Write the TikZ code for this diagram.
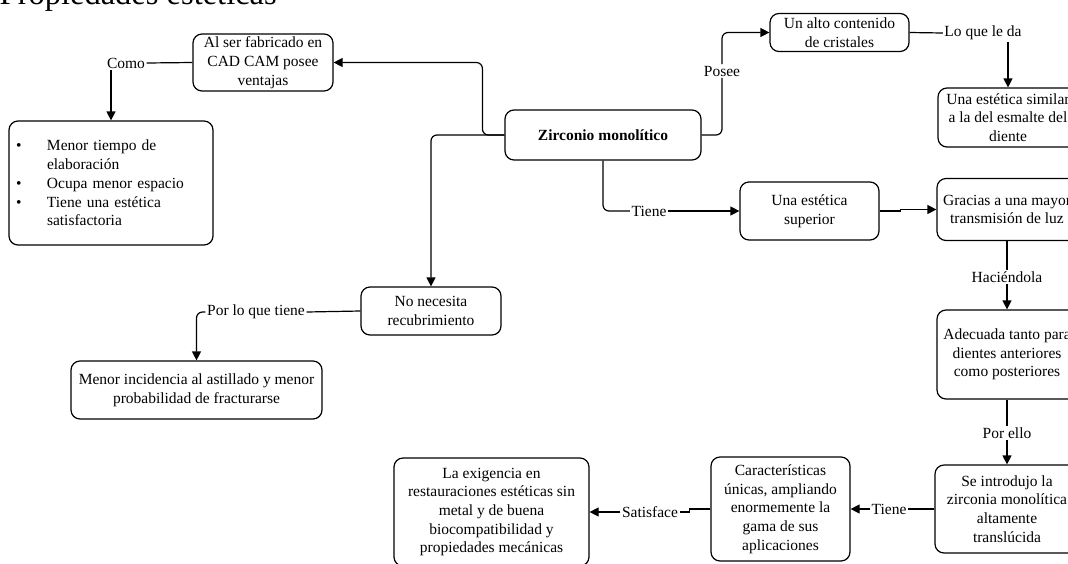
\documentclass[tikz,border=0pt]{standalone}
\usepackage{fontspec}
\setmainfont{Liberation Serif}
\usetikzlibrary{arrows.meta}
\newcommand{\bodyfs}{\fontsize{15.5}{18.7}\selectfont}
\begin{document}
\begin{tikzpicture}[x=1pt,y=-1pt,
  box/.style={draw, rounded corners=9pt, line width=1.2pt, align=center, inner sep=1pt, font=\bodyfs},
  lbl/.style={inner sep=1.5pt, font=\bodyfs},
  conn/.style={line width=1.2pt},
  arr/.style={line width=1.2pt, -{Triangle[length=9pt,width=9pt]}}]
\useasboundingbox (0,0) rectangle (1068,563);
% title
\node[anchor=base west, inner sep=0, font=\fontsize{32.5}{39}\selectfont] (title) at (-0.5,4) {Propiedades estéticas};
% boxes
\node[box, minimum width=140, minimum height=57] (cad) at (263,62.5) {Al ser fabricado en\\CAD CAM posee\\ventajas};
\node[box, minimum width=204, minimum height=124, text width=202, align=left, inner xsep=0pt] (bul) at (111,183) {%
\makebox[37pt][l]{\hspace{6pt}\textbullet}Menor tiempo de\\
\hspace*{37pt}elaboración\\
\makebox[37pt][l]{\hspace{6pt}\textbullet}Ocupa menor espacio\\
\makebox[37pt][l]{\hspace{6pt}\textbullet}Tiene una estética\\
\hspace*{37pt}satisfactoria};
\node[box, minimum width=196, minimum height=50] (zir) at (603,135) {\textbf{Zirconio monolítico}};
\node[box, minimum width=139, minimum height=38] (alto) at (839.5,32.5) {Un alto contenido\\de cristales};
\node[box, minimum width=140, minimum height=59] (sim) at (1008,117.5) {Una estética similar\\a la del esmalte del\\diente};
\node[box, minimum width=139, minimum height=58] (sup) at (809.5,211) {Una estética\\superior};
\node[box, minimum width=140, minimum height=62] (gra) at (1007,209.5) {Gracias a una mayor\\transmisión de luz};
\node[box, minimum width=140, minimum height=89] (ade) at (1007,354.5) {Adecuada tanto para\\dientes anteriores\\como posteriores};
\node[box, minimum width=144, minimum height=88] (intro) at (1007,509) {Se introdujo la\\zirconia monolítica\\altamente\\translúcida};
\node[box, minimum width=139, minimum height=104] (car) at (780.5,509) {Características\\únicas, ampliando\\enormemente la\\gama de sus\\aplicaciones};
\node[box, minimum width=195, minimum height=108] (exi) at (491.5,512) {La exigencia en\\restauraciones estéticas sin\\metal y de buena\\biocompatibilidad y\\propiedades mecánicas};
\node[box, minimum width=140, minimum height=48] (nec) at (431,311) {No necesita\\recubrimiento};
\node[box, minimum width=251, minimum height=58] (men) at (196.5,390) {Menor incidencia al astillado y menor\\probabilidad de fracturarse};
% labels
\node[lbl] (como) at (126,63) {Como};
\node[lbl] (posee) at (722,71) {Posee};
\node[lbl] (loque) at (983,33) {Lo que le da};
\node[lbl] (tiene1) at (649,211) {Tiene};
\node[lbl] (hac) at (1007,277) {Haciéndola};
\node[lbl] (pore) at (1007,433) {Por ello};
\node[lbl] (tiene2) at (889,509) {Tiene};
\node[lbl] (satis) at (650,512) {Satisface};
\node[lbl] (plq) at (256,312) {Por lo que tiene};
% connectors
\draw[arr, rounded corners=6pt] (zir.west) -- ++(-22,0) |- (cad.east);
\draw[arr, rounded corners=6pt] (zir.west) -| (nec.north);
\draw[conn] (cad.west) -- (como.east);
\draw[arr] (como.south -| bul.north) -- (bul.north);
\draw[conn, rounded corners=6pt] (zir.east) -| (posee.south);
\draw[arr, rounded corners=6pt] (posee.north) |- (alto.west);
\draw[conn] (alto.east) -- (loque.west);
\draw[arr] (loque.south -| sim.north) -- (sim.north);
\draw[conn, rounded corners=6pt] (zir.south) |- (tiene1.west);
\draw[arr] (tiene1.east) -- (sup.west);
\draw[arr] (sup.east) -- ++(21,0) |- (gra.west);
\draw[conn] (gra.south) -- (hac.north);
\draw[arr] (hac.south) -- (ade.north);
\draw[conn] (ade.south) -- (pore.north);
\draw[arr] (pore.south) -- (intro.north);
\draw[conn] (intro.west) -- (tiene2.east);
\draw[arr] (tiene2.west) -- (car.east);
\draw[conn] (car.west) -- ++(-21,0) |- (satis.east);
\draw[arr] (satis.west) -- (exi.east);
\draw[conn] (nec.west) -- (plq.east);
\draw[arr, rounded corners=6pt] (plq.west) -| (men.north);
\end{tikzpicture}
\end{document}
